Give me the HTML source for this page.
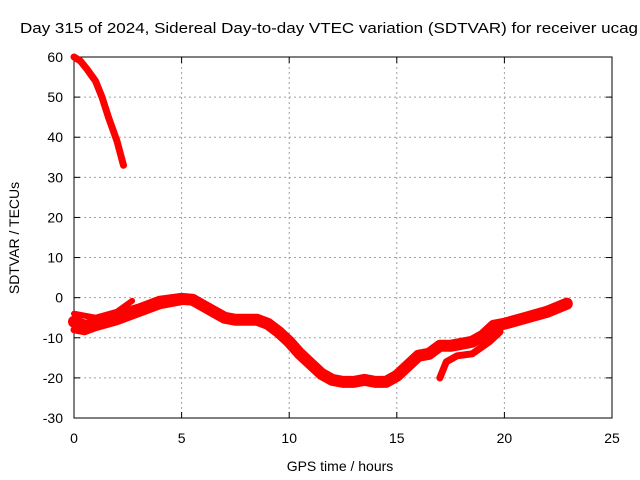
<!DOCTYPE html>
<html><head><meta charset="utf-8"><style>
body{margin:0;background:#fff}
svg{display:block;font-family:"Liberation Sans",sans-serif}
</style></head><body>
<svg id="c" width="640" height="480"></svg>
<script>
const xTicks=[0,5,10,15,20,25];
const yTicks=[60,50,40,30,20,10,0,-10,-20,-30];
const topHours=[0,0.3,0.6,1,1.3,1.6,2,2.3];
const topValues=[60,59,57,54,50,45,39,33];
const mainHours=[0,0.5,1,1.5,2,3,4,5,5.5,6,6.5,7,7.5,8,8.5,9,9.5,10,10.5,11,11.5,12,12.5,13,13.5,14,14.5,15,15.5,16,16.5,17,17.5,18,18.5,19,19.5,20,21,22,22.9];
const mainValues=[-6,-7,-6.5,-5.5,-4.5,-3,-1,-0.3,-0.5,-2,-3.5,-5,-5.5,-5.5,-5.5,-6.5,-8.5,-11,-14,-16.5,-19,-20.5,-21,-21,-20.5,-21,-21,-19.5,-17,-14.5,-14,-12,-12,-11.5,-11,-9.5,-7,-6.5,-5,-3.5,-1.5];
const branchHours=[17,17.3,17.8,18.5,19.3,19.8];
const branchValues=[-20,-16,-14.5,-14,-11,-8.5];
const upperHours=[0,1,2,2.7];
const upperValues=[-4,-5,-3.5,-0.8];
const lowerHours=[0,0.5,1,2,3,4,5];
const lowerValues=[-8,-8.5,-7.5,-6,-4,-2,-1];

const X0=74,X1=612,Y0=418,Y1=57;
const sx=v=>X0+(v-0)/25*(X1-X0);
const sy=v=>Y0-(v+30)/90*(Y0-Y1);
const svg=document.getElementById('c');
const NS='http://www.w3.org/2000/svg';
function mk(t,a,p){const e=document.createElementNS(NS,t);for(const k in a)e.setAttribute(k,a[k]);(p||svg).appendChild(e);return e;}
xTicks.forEach(t=>{if(t>0&&t<25){const g=mk('line',{x1:sx(t),x2:sx(t),y1:Y1,y2:Y0,stroke:'#a0a0a0','stroke-dasharray':'2,3'});

}
const l=mk('text',{x:sx(t),y:443,'font-size':14,'text-anchor':'middle',fill:'#000'});l.textContent=t;


mk('line',{x1:sx(t),x2:sx(t),y1:Y0,y2:Y0-6,stroke:'#000'});mk('line',{x1:sx(t),x2:sx(t),y1:Y1,y2:Y1+6,stroke:'#000'});});
yTicks.forEach(t=>{if(t>-30&&t<60){const g=mk('line',{x1:X0,x2:X1,y1:sy(t),y2:sy(t),stroke:'#a0a0a0','stroke-dasharray':'2,3'});

}
const l=mk('text',{x:63,y:sy(t)+5,'font-size':14,'text-anchor':'end',fill:'#000'});l.textContent=t;


mk('line',{x1:X0,x2:X0+6,y1:sy(t),y2:sy(t),stroke:'#000'});mk('line',{x1:X1,x2:X1-6,y1:sy(t),y2:sy(t),stroke:'#000'});});
const fr=mk('rect',{x:X0,y:Y1,width:X1-X0,height:Y0-Y1,fill:'none',stroke:'#000'});


function series(h,v,w,name){const pts=h.map((x,i)=>sx(x)+','+sy(v[i])).join(' ');
const p=mk('polyline',{points:pts,fill:'none',stroke:'#ff0000','stroke-width':w,'stroke-linejoin':'round','stroke-linecap':'round'});

}
series(topHours,topValues,7,'series-top-segment');
series(mainHours,mainValues,12,'series-main');
series(branchHours,branchValues,7,'series-branch');
series(upperHours,upperValues,6,'series-upper-start');
series(lowerHours,lowerValues,7,'series-lower-start');
const tt=mk('text',{x:20,y:33,'font-size':15,'text-anchor':'start',fill:'#000',textLength:618,lengthAdjust:'spacingAndGlyphs'});tt.textContent='Day 315 of 2024, Sidereal Day-to-day VTEC variation (SDTVAR) for receiver ucag';


const xl=mk('text',{x:340,y:471,'font-size':14,'text-anchor':'middle',fill:'#000'});xl.textContent='GPS time / hours';


const yl=mk('text',{x:0,y:0,'font-size':14,'text-anchor':'middle',fill:'#000',transform:'translate(19,238) rotate(-90)'});yl.textContent='SDTVAR / TECUs';


</script>
</body></html>
